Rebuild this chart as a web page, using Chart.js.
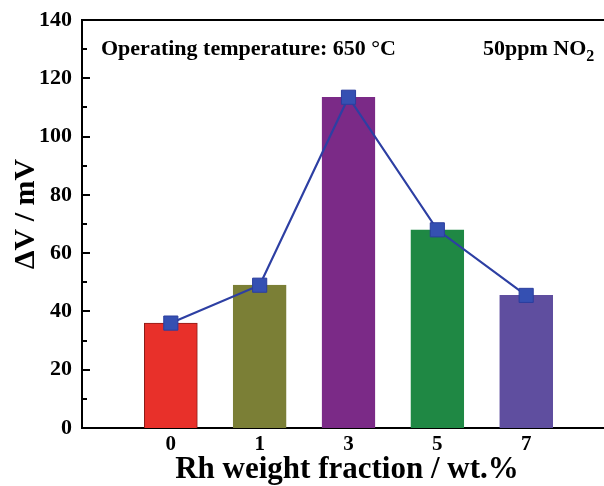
<!DOCTYPE html>
<html>
<head>
<meta charset="utf-8">
<script src="https://cdn.jsdelivr.net/npm/chart.js@4"></script>
<style>
  html, body { margin:0; padding:0; background:#fff; overflow:hidden; }
  #wrap { width:604px; height:486px; overflow:hidden; }
  canvas { display:block; }
</style>
</head>
<body>
<div id="wrap"><canvas id="chart" width="626" height="486"></canvas></div>
<script>
// Rh loading (wt.%) and sensor response at 650 °C, 50 ppm NO2
const RH_LABELS = ['0', '1', '3', '5', '7'];
const DELTA_V = [36, 49, 113.5, 68, 45.5];
const BAR_COLORS = ['#e8302a', '#7b7f36', '#7b2a87', '#1f8844', '#5f4e9f'];
const BAR_EDGES = ['#8c1c18', '#7b7f36', '#7b2a87', '#1f8844', '#5f4e9f'];
const Y_TICKS = [0, 20, 40, 60, 80, 100, 120, 140];

const SERIF = '"Liberation Serif", "Times New Roman", serif';

const points = DELTA_V.map((v, i) => ({x: i, y: v}));

// frame top line, inward y ticks, axis titles and the two captions
const decor = {
  id: 'decor',
  afterDraw(chart){
    const {ctx, chartArea: a, scales: {y}} = chart;
    ctx.save();
    ctx.strokeStyle = '#000';
    ctx.lineWidth = 2;
    ctx.beginPath();
    ctx.moveTo(a.left - 1, a.top);
    ctx.lineTo(a.right + 1, a.top);
    ctx.stroke();

    for(let v = 0; v <= 140; v += 10){
      const py = Math.round(y.getPixelForValue(v));
      const len = Y_TICKS.includes(v) ? 8 : 5;
      ctx.beginPath();
      ctx.moveTo(a.left, py);
      ctx.lineTo(a.left + len, py);
      ctx.stroke();
    }

    ctx.fillStyle = '#000';
    ctx.textBaseline = 'alphabetic';

    // axis titles
    ctx.font = 'bold 31px ' + SERIF;
    ctx.textAlign = 'center';
    ctx.fillText('Rh weight fraction / wt.%', 347, 478);
    ctx.save();
    ctx.translate(34, 214);
    ctx.rotate(-Math.PI / 2);
    ctx.font = 'bold 30px ' + SERIF;
    ctx.fillText('ΔV / mV', 0, 0);
    ctx.restore();

    // captions
    ctx.textAlign = 'left';
    ctx.font = 'bold 22px ' + SERIF;
    ctx.fillText('Operating temperature: 650 °C', 101, 55);
    ctx.fillText('50ppm NO', 483, 55);
    const w = ctx.measureText('50ppm NO').width;
    ctx.font = 'bold 16px ' + SERIF;
    ctx.fillText('2', 483 + w, 61);
    ctx.restore();
  }
};

new Chart(document.getElementById('chart'), {
  data: {
    datasets: [
      {
        type: 'line',
        data: points,
        order: 0,
        borderColor: '#2d3fa3',
        borderWidth: 2.2,
        pointStyle: 'rect',
        pointRadius: 10,
        pointBackgroundColor: '#3550b2',
        pointBorderColor: '#2b3e9e',
        pointBorderWidth: 1
      },
      {
        type: 'bar',
        data: points,
        order: 1,
        backgroundColor: BAR_COLORS,
        borderColor: BAR_EDGES,
        borderWidth: 1,
        barThickness: 53
      }
    ]
  },
  options: {
    responsive: false,
    animation: false,
    layout: {padding: {top: 20, right: 6, left: 0, bottom: 0}},
    plugins: {legend: {display: false}, tooltip: {enabled: false}},
    scales: {
      x: {
        type: 'linear',
        min: -1,
        max: 5,
        offset: false,
        grid: {display: false, drawTicks: false},
        border: {display: true, color: '#000', width: 2},
        ticks: {
          stepSize: 1,
          padding: 4,
          color: '#000',
          font: {family: SERIF, size: 21, weight: 'bold'},
          callback: v => RH_LABELS[v] ?? ''
        },
        afterFit(s){ s.height = 58; }
      },
      y: {
        min: 0,
        max: 140,
        grid: {display: false, drawTicks: false},
        border: {display: true, color: '#000', width: 2},
        ticks: {
          stepSize: 10,
          padding: 10,
          color: '#000',
          font: {family: SERIF, size: 22, weight: 'bold', lineHeight: 1},
          callback: v => Y_TICKS.includes(v) ? String(v) : ''
        },
        afterFit(s){ s.width = 82; s.paddingTop = 0; s.paddingBottom = 0; }
      }
    }
  },
  plugins: [decor]
});
</script>
</body>
</html>
